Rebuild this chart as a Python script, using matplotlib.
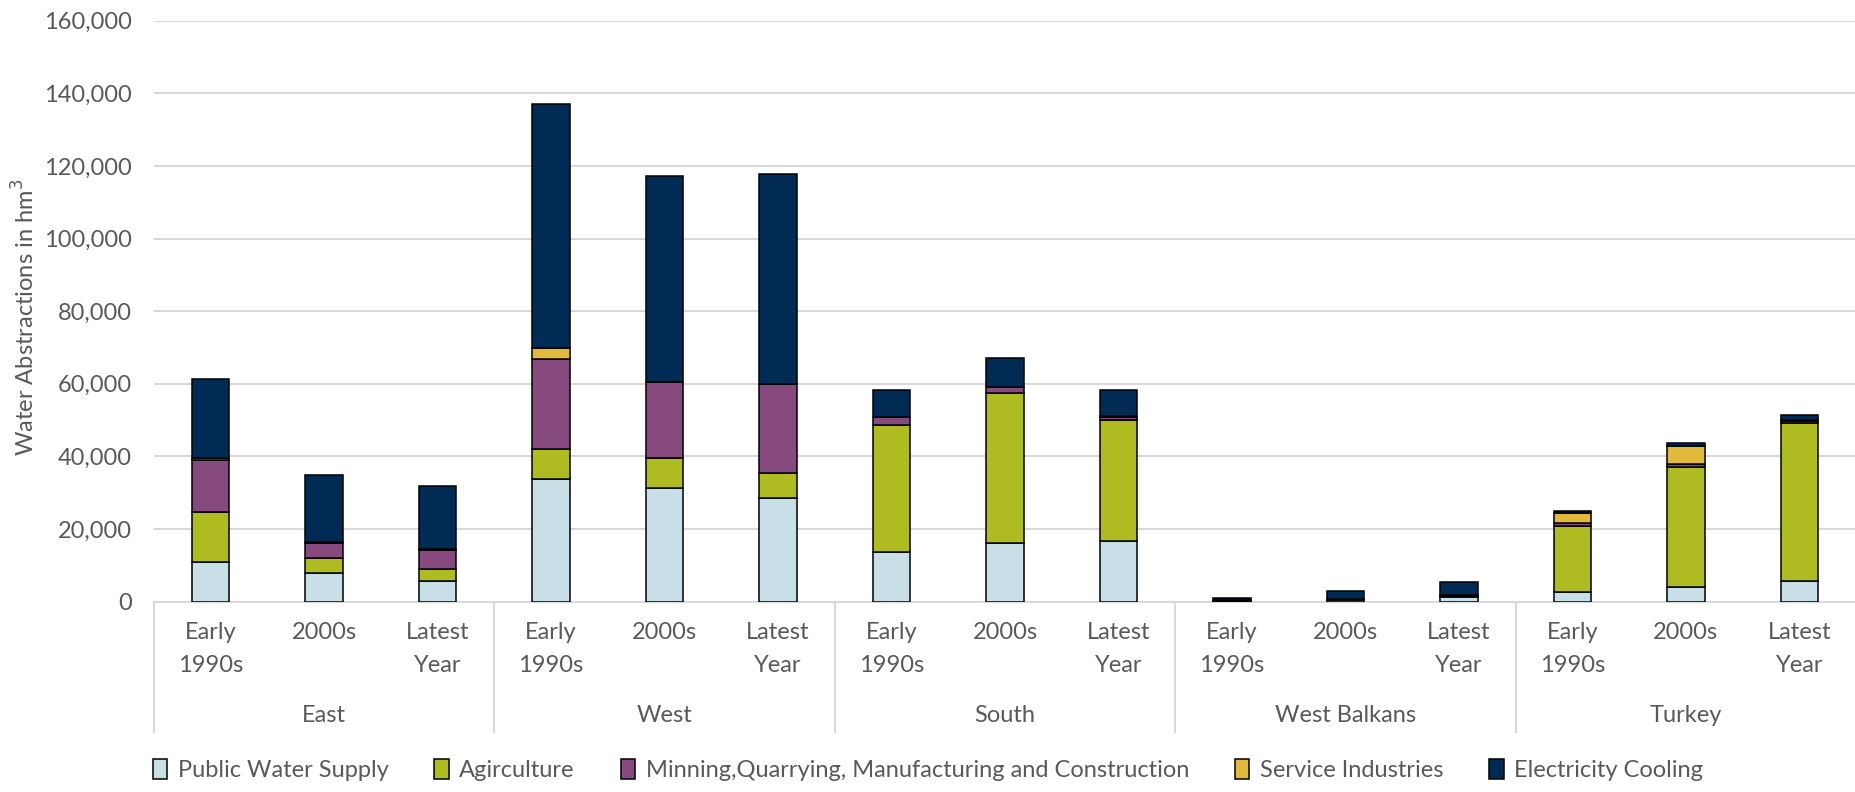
import numpy as np
import matplotlib.pyplot as plt
from matplotlib.patches import Patch

plt.rcParams['font.family'] = ['Lato', 'DejaVu Sans']

regions = ["East", "West", "South", "West Balkans", "Turkey"]
periods = ["Early\n1990s", "2000s", "Latest\nYear"]

# water abstractions by sector, hm3 (3 periods per region)
public_water = [10800, 7800, 5700, 33700, 31200, 28400, 13700, 16000, 16700, 200, 400, 1200, 2700, 3900, 5700]
agriculture = [13900, 4100, 3300, 8200, 8300, 7000, 34800, 41400, 33200, 100, 200, 300, 18100, 33200, 43600]
mining = [14300, 4100, 5200, 24900, 20900, 24500, 2300, 1700, 1000, 100, 200, 300, 700, 700, 500]
services = [400, 500, 200, 3000, 100, 100, 100, 100, 100, 0, 0, 0, 2800, 5000, 300]
cooling = [21800, 18300, 17500, 67300, 56700, 57900, 7300, 7800, 7300, 700, 2100, 3500, 600, 800, 1300]

series = [
    ("Public Water Supply", public_water, "#C9DFE8"),
    ("Agirculture", agriculture, "#AEBB21"),
    ("Minning,Quarrying, Manufacturing and Construction", mining, "#864A7F"),
    ("Service Industries", services, "#E2B83D"),
    ("Electricity Cooling", cooling, "#002B55"),
]

TXT = "#595959"
GRID = "#D9D9D9"
FS = 17

fig = plt.figure(figsize=(18.56, 7.92), dpi=100)
ax = fig.add_axes([154 / 1856, 190.5 / 792, 1 - 154 / 1856, 580.8 / 792])

x = np.arange(len(regions) * len(periods))
bottom = np.zeros(len(x))
handles = []
for name, vals, col in series:
    vals = np.array(vals, dtype=float)
    ax.bar(x, vals, width=0.33, bottom=bottom, color=col, edgecolor="black",
           linewidth=1.1, zorder=3)
    bottom += vals
    handles.append(Patch(facecolor=col, edgecolor="black", linewidth=1.1, label=name))

ax.set_xlim(-0.5, len(x) - 0.5)
ax.set_ylim(0, 160000)
ax.set_yticks(np.arange(0, 160001, 20000))
ax.yaxis.set_major_formatter(plt.FuncFormatter(lambda v, p: f"{int(v):,}"))
ax.grid(axis="y", color=GRID, linewidth=1.5, zorder=0)
for s in ["top", "right", "left"]:
    ax.spines[s].set_visible(False)
ax.spines["bottom"].set_color(GRID)
ax.spines["bottom"].set_linewidth(1.5)

ax.set_xticks(x)
ax.set_xticklabels(periods * len(regions), linespacing=1.7)
ax.tick_params(axis="x", length=0, pad=15, labelsize=FS, labelcolor=TXT)
ax.tick_params(axis="y", length=0, pad=16, labelsize=FS, labelcolor=TXT)

# region labels and separators below the period labels
trans = ax.get_xaxis_transform()
for i, reg in enumerate(regions):
    ax.text(i * 3 + 1, -0.197, reg, transform=trans, ha="center", va="center",
            fontsize=FS, color=TXT)
for b in np.arange(-0.5, len(x), 3):
    ax.plot([b, b], [0, -0.224], transform=trans, color=GRID, linewidth=1.5,
            clip_on=False)

fig.text(25 / 1856, 1 - 317 / 792, "Water Abstractions in hm$^3$", rotation=90,
         ha="center", va="center", fontsize=FS, color=TXT)

fig.legend(handles=handles, loc="center", bbox_to_anchor=(0.5, 22 / 792), ncol=5,
           frameon=False, fontsize=FS, labelcolor=TXT, handlelength=0.6,
           handleheight=0.9, handletextpad=0.45, columnspacing=1.95)

fig.savefig("out.png", dpi=100)
